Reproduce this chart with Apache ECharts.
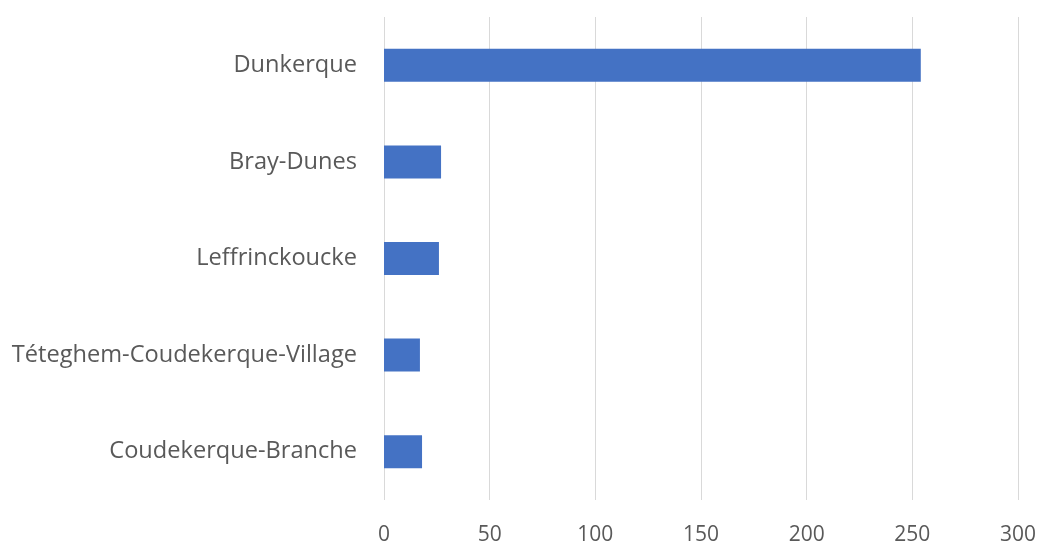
<!DOCTYPE html>
<html><head><meta charset="utf-8">
<script src="https://cdn.jsdelivr.net/npm/echarts@6/dist/echarts.min.js"></script>
<style>html,body{margin:0;padding:0;background:#fff}#c{width:1042px;height:547px}</style>
</head><body><div id="c"></div>
<script>
const categories = ["Dunkerque", "Bray-Dunes", "Leffrinckoucke", "Téteghem-Coudekerque-Village", "Coudekerque-Branche"];
const values = [254, 27, 26, 17, 18];
const xTicks = [0, 50, 100, 150, 200, 250, 300];

const chart = echarts.init(document.getElementById('c'));
chart.setOption({
  animation: false,
  backgroundColor: '#fff',
  grid: { left: 384, right: 24, top: 17, bottom: 47 },
  xAxis: {
    type: 'value', min: xTicks[0], max: xTicks[xTicks.length-1], interval: 50,
    axisLine: { show: false }, axisTick: { show: false },
    splitLine: { lineStyle: { color: '#d9d9d9', width: 1 } },
    axisLabel: { color: '#595959', fontSize: 21, fontFamily: 'Open Sans', margin: 25 }
  },
  yAxis: {
    type: 'category', data: categories, inverse: true,
    axisLine: { show: false }, axisTick: { show: false },
    axisLabel: { color: '#595959', fontSize: 23.6, fontFamily: 'Open Sans', margin: 27, padding: [5, 0, 0, 0] }
  },
  series: [{
    type: 'bar', data: values, barWidth: 33,
    itemStyle: { color: '#4472c4' }
  }]
});
</script></body></html>
